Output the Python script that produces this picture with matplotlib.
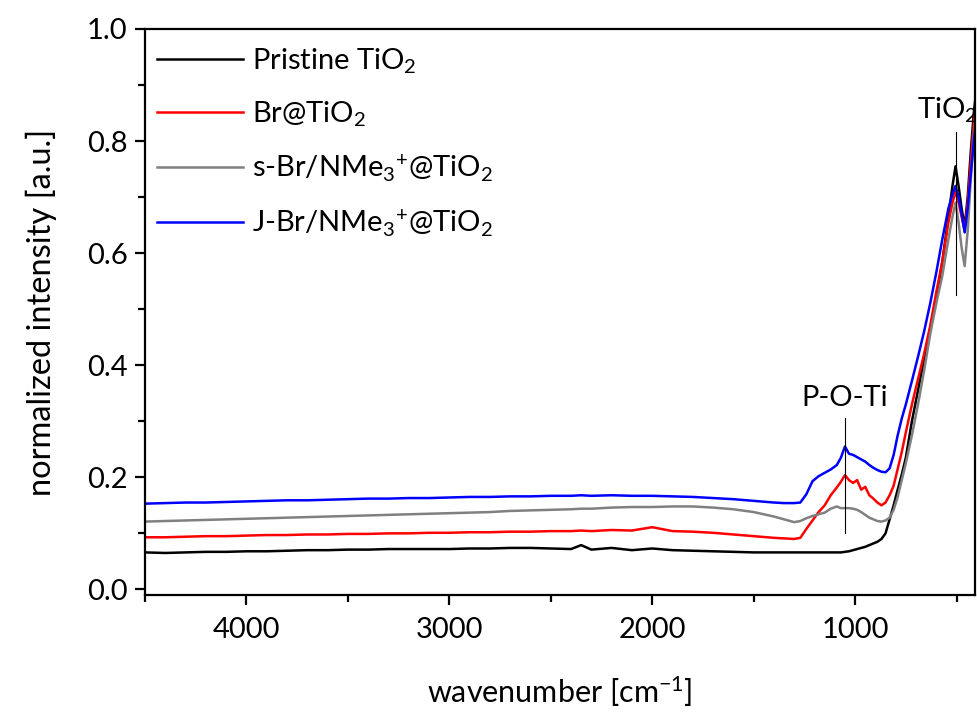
import matplotlib
matplotlib.use("Agg")
import matplotlib.pyplot as plt
from matplotlib.ticker import MultipleLocator, FormatStrFormatter

plt.rcParams['font.family'] = ['Lato', 'DejaVu Sans']
plt.rcParams['mathtext.fontset'] = 'custom'
plt.rcParams['mathtext.rm'] = 'Lato'
plt.rcParams['mathtext.it'] = 'Lato:italic'
plt.rcParams['mathtext.bf'] = 'Lato:bold'

# wavenumber grid [cm-1]
wavenumber = [4500, 4400, 4300, 4200, 4100, 4000, 3900, 3800, 3700, 3600,
              3500, 3400, 3300, 3200, 3100, 3000, 2900, 2800, 2700, 2600,
              2500, 2400, 2350, 2300, 2200, 2100, 2000, 1900, 1800, 1700,
              1600, 1500, 1400, 1350, 1300, 1270, 1240, 1210, 1180, 1150,
              1120, 1090, 1070, 1050, 1030, 1010, 990, 970, 950, 930,
              910, 890, 870, 850, 830, 810, 790, 770, 750, 720,
              690, 660, 630, 600, 570, 540, 520, 505, 490, 475,
              460, 445, 430, 415, 400]

pristine = [.066, .065, .066, .067, .067, .068, .068, .069, .070, .070,
            .071, .071, .072, .072, .072, .072, .073, .073, .074, .074,
            .073, .072, .079, .071, .074, .070, .073, .070, .069, .068,
            .067, .066, .066, .066, .066, .066, .066, .066, .066, .066,
            .066, .066, .066, .067, .068, .070, .072, .074, .076, .079,
            .082, .085, .090, .100, .125, .150, .178, .205, .235, .300,
            .355, .410, .465, .520, .585, .665, .720, .755, .720, .680,
            .647, .700, .780, .850, .900]

br = [.093, .093, .094, .095, .095, .096, .097, .097, .098, .098,
      .099, .099, .100, .100, .101, .101, .102, .102, .103, .103,
      .104, .104, .105, .104, .106, .105, .111, .104, .103, .101,
      .098, .095, .092, .091, .090, .092, .108, .123, .138, .150,
      .168, .182, .192, .204, .195, .190, .195, .178, .183, .168,
      .162, .155, .150, .155, .168, .185, .215, .245, .280, .330,
      .375, .420, .470, .530, .585, .655, .690, .710, .690, .665,
      .640, .690, .760, .830, .880]

s_br = [.121, .122, .123, .124, .125, .126, .127, .128, .129, .130,
        .131, .132, .133, .134, .135, .136, .137, .138, .140, .141,
        .142, .143, .144, .144, .146, .147, .147, .148, .148, .146,
        .143, .138, .130, .125, .120, .122, .127, .131, .134, .137,
        .144, .148, .145, .145, .145, .144, .142, .138, .133, .128,
        .125, .122, .121, .123, .128, .142, .165, .195, .225, .275,
        .330, .390, .455, .510, .560, .625, .665, .690, .655, .610,
        .577, .640, .730, .810, .860]

j_br = [.153, .154, .155, .155, .156, .157, .158, .159, .159, .160,
        .161, .162, .162, .163, .163, .164, .165, .165, .166, .166,
        .167, .167, .168, .167, .168, .167, .167, .166, .165, .163,
        .161, .158, .155, .154, .154, .155, .170, .193, .202, .208,
        .214, .222, .235, .255, .242, .240, .236, .232, .228, .222,
        .217, .213, .210, .209, .216, .240, .275, .305, .330, .372,
        .415, .460, .510, .565, .625, .680, .705, .720, .700, .670,
        .637, .680, .740, .800, .850]

labels = [r'Pristine TiO$_2$', r'Br@TiO$_2$',
          r's-Br/NMe$_3{}^{+}$@TiO$_2$', r'J-Br/NMe$_3{}^{+}$@TiO$_2$']
colors = ['#000000', '#ff0000', '#808080', '#0000ff']

fig = plt.figure(figsize=(9.77, 7.12), dpi=100)
ax = fig.add_axes([145 / 977, 1 - 595 / 712, 830 / 977, 566 / 712])

for series, lab, col in zip([pristine, br, s_br, j_br], labels, colors):
    ax.plot(wavenumber, series, color=col, lw=1.8, label=lab)

# band markers
ax.plot([1050, 1050], [0.100, 0.305], color='black', lw=0.8)
ax.text(1050, 0.318, 'P-O-Ti', ha='center', va='bottom', fontsize=21)
ax.plot([503, 503], [0.525, 0.816], color='black', lw=0.8)
ax.text(548, 0.828, r'TiO$_2$', ha='center', va='bottom', fontsize=21)

ax.set_xlim(4500, 409)
ax.set_ylim(-0.01, 1.0)

ax.xaxis.set_major_locator(MultipleLocator(1000))
ax.xaxis.set_minor_locator(MultipleLocator(500))
ax.yaxis.set_major_locator(MultipleLocator(0.2))
ax.yaxis.set_minor_locator(MultipleLocator(0.1))
ax.yaxis.set_major_formatter(FormatStrFormatter('%.1f'))

ax.tick_params(which='major', direction='out', length=7.5, width=1.6,
               labelsize=21)
ax.tick_params(axis='y', which='major', pad=5)
ax.tick_params(axis='x', which='major', pad=8)
ax.tick_params(which='minor', direction='out', length=5, width=1.6)
for sp in ax.spines.values():
    sp.set_linewidth(1.6)

ax.set_xlabel(r'wavenumber [cm$^{-1}$]', fontsize=22)
ax.set_ylabel('normalized intensity [a.u.]', fontsize=23.5)
ax.xaxis.set_label_coords(0.5, -0.141)
ax.yaxis.set_label_coords(-0.106, 0.5)

ax.legend(loc='upper left', bbox_to_anchor=(0.004, 0.985), frameon=False,
          fontsize=21, handlelength=2.95, handletextpad=0.3,
          labelspacing=0.82, borderpad=0.3, borderaxespad=0.0)

fig.savefig('out.png', dpi=100)
